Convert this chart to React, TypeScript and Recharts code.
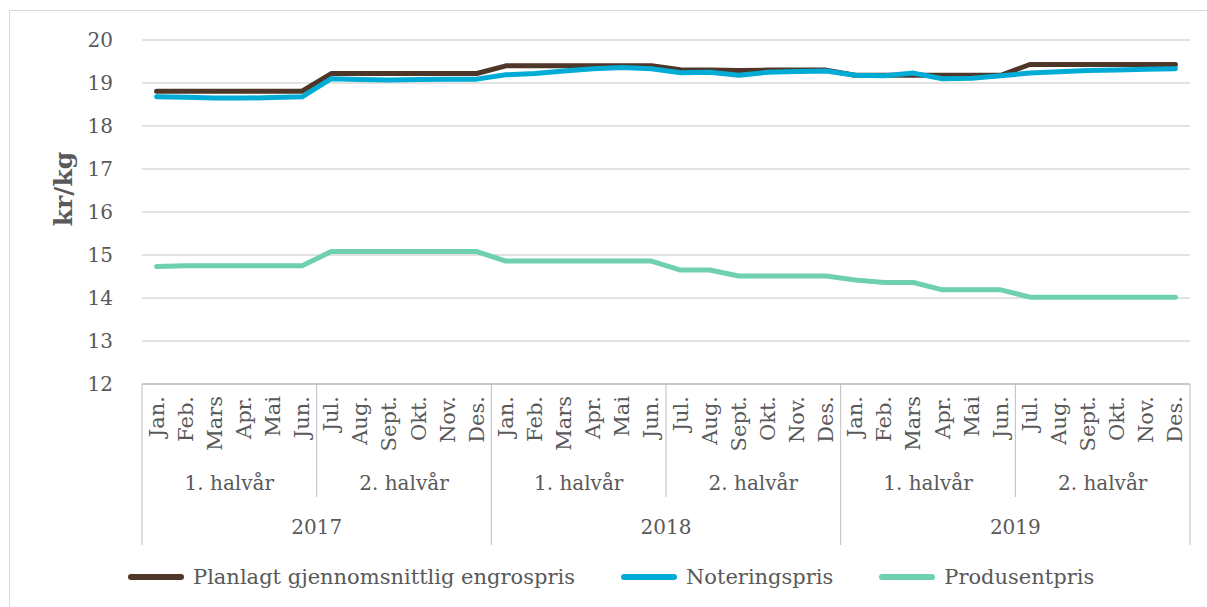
import React from 'react';
import { LineChart, Line, XAxis, YAxis, CartesianGrid, Legend } from 'recharts';

const years = ['2017', '2018', '2019'];
const halves = ['1. halvår', '2. halvår'];
const monthNames = ['Jan.', 'Feb.', 'Mars', 'Apr.', 'Mai', 'Jun.', 'Jul.', 'Aug.', 'Sept.', 'Okt.', 'Nov.', 'Des.'];

const planlagt = [
  18.81, 18.81, 18.81, 18.81, 18.81, 18.81, 19.22, 19.22, 19.22, 19.22, 19.22, 19.22,
  19.4, 19.4, 19.4, 19.4, 19.4, 19.4, 19.31, 19.3, 19.29, 19.3, 19.3, 19.3,
  19.18, 19.18, 19.18, 19.18, 19.18, 19.18, 19.43, 19.43, 19.43, 19.43, 19.43, 19.43,
];
const notering = [
  18.68, 18.67, 18.65, 18.65, 18.66, 18.68, 19.1, 19.08, 19.07, 19.08, 19.09, 19.09,
  19.19, 19.22, 19.28, 19.33, 19.36, 19.33, 19.24, 19.25, 19.18, 19.25, 19.27, 19.28,
  19.18, 19.17, 19.23, 19.1, 19.11, 19.17, 19.23, 19.26, 19.29, 19.3, 19.32, 19.33,
];
const produsent = [
  14.73, 14.75, 14.75, 14.75, 14.75, 14.75, 15.08, 15.08, 15.08, 15.08, 15.08, 15.08,
  14.86, 14.86, 14.86, 14.86, 14.86, 14.86, 14.65, 14.65, 14.51, 14.51, 14.51, 14.51,
  14.42, 14.36, 14.36, 14.19, 14.19, 14.19, 14.02, 14.02, 14.02, 14.02, 14.02, 14.02,
];
const yTicks = [12, 13, 14, 15, 16, 17, 18, 19, 20];

const data = years.flatMap((yr, yi) =>
  monthNames.map((m, mi) => {
    const i = yi * 12 + mi;
    return {
      key: `${yr}-${mi}`,
      month: m,
      half: halves[mi < 6 ? 0 : 1],
      year: yr,
      planlagt: planlagt[i],
      notering: notering[i],
      produsent: produsent[i],
    };
  })
);

const W = 1207;
const H = 607;
const PLOT_LEFT = 142;
const PLOT_RIGHT = 1190;
const BW = (PLOT_RIGHT - PLOT_LEFT) / data.length;
const FONT = "Georgia, 'DejaVu Serif', serif";
const TXT = '#595959';
const SEP = '#bfbfbf';
const LAST = data.length - 1;
const PAD = { left: BW / 2, right: BW / 2 };

const MonthTick = (props: any) => {
  const { x, y, index } = props;
  return (
    <g>
      <text
        transform={`translate(${x},${y + 12}) rotate(-90)`}
        textAnchor="end"
        dominantBaseline="central"
        fontSize={21}
        fontFamily={FONT}
        fill={TXT}
      >
        {data[index].month}
      </text>
      {index % 6 === 0 && <line x1={x - BW / 2} x2={x - BW / 2} y1={y} y2={y + 69} stroke={SEP} />}
      {index === LAST && <line x1={x + BW / 2} x2={x + BW / 2} y1={y} y2={y + 69} stroke={SEP} />}
    </g>
  );
};

const HalfTick = (props: any) => {
  const { x, y, index } = props;
  return (
    <g>
      {index % 6 === 3 && (
        <text x={x - BW / 2} y={y + 30} textAnchor="middle" dominantBaseline="central" fontSize={20} fontFamily={FONT} fill={TXT}>
          {data[index].half}
        </text>
      )}
      {index % 6 === 0 && <line x1={x - BW / 2} x2={x - BW / 2} y1={y} y2={y + 44} stroke={SEP} />}
      {index === LAST && <line x1={x + BW / 2} x2={x + BW / 2} y1={y} y2={y + 44} stroke={SEP} />}
    </g>
  );
};

const YearTick = (props: any) => {
  const { x, y, index } = props;
  return (
    <g>
      {index % 12 === 6 && (
        <text x={x - BW / 2} y={y + 30} textAnchor="middle" dominantBaseline="central" fontSize={20} fontFamily={FONT} fill={TXT}>
          {data[index].year}
        </text>
      )}
      {index % 12 === 0 && <line x1={x - BW / 2} x2={x - BW / 2} y1={y} y2={y + 48} stroke={SEP} />}
      {index === LAST && <line x1={x + BW / 2} x2={x + BW / 2} y1={y} y2={y + 48} stroke={SEP} />}
    </g>
  );
};

const series = [
  { key: 'planlagt', name: 'Planlagt gjennomsnittlig engrospris', color: '#4e3629' },
  { key: 'notering', name: 'Noteringspris', color: '#00acd6' },
  { key: 'produsent', name: 'Produsentpris', color: '#6ecfb1' },
];

const LegendBox = () => (
  <div style={{ height: 62, display: 'flex', alignItems: 'flex-start', paddingTop: 20, paddingLeft: 128, boxSizing: 'border-box', fontFamily: FONT, fontSize: 21, color: TXT }}>
    {series.map((s, i) => (
      <div key={s.key} style={{ display: 'flex', alignItems: 'center', marginLeft: i === 0 ? 0 : 46, height: 24 }}>
        <svg width={56} height={8} style={{ marginRight: 9 }}>
          <line x1={3} x2={53} y1={4} y2={4} stroke={s.color} strokeWidth={6} strokeLinecap="round" />
        </svg>
        <span style={{ whiteSpace: 'nowrap' }}>{s.name}</span>
      </div>
    ))}
  </div>
);

const YLabel = (props: any) => {
  const { viewBox } = props;
  const cx = viewBox.x + 63;
  const cy = 189;
  return (
    <text transform={`translate(${cx},${cy}) rotate(-90)`} textAnchor="middle" dominantBaseline="central" fontSize={25} fontWeight="bold" fontFamily={FONT} fill={TXT}>
      kr/kg
    </text>
  );
};

export default function App() {
  return (
    <div style={{ position: 'relative', width: W, height: H, background: '#fff' }}>
      <style>{'body{margin:0;overflow:hidden;}'}</style>
      <div style={{ position: 'absolute', left: 9, top: 10, width: W - 9, height: H - 10, borderTop: '1px solid #d9d9d9', borderLeft: '1px solid #d9d9d9', boxSizing: 'border-box' }} />
      <div style={{ position: 'absolute', left: 0, top: 0 }}>
        <LineChart width={W} height={H} data={data} margin={{ top: 40, right: W - PLOT_RIGHT, left: 0, bottom: 0 }}>
          <CartesianGrid xAxisId="a" vertical={false} stroke="#d9d9d9" strokeWidth={1.5} />
          <XAxis xAxisId="a" dataKey="key" padding={PAD} interval={0} height={69} tickSize={0} tickMargin={0} tickLine={false} axisLine={{ stroke: SEP, strokeWidth: 1.5 }} tick={<MonthTick />} />
          <XAxis xAxisId="b" dataKey="key" padding={PAD} interval={0} height={44} tickSize={0} tickMargin={0} tickLine={false} axisLine={false} tick={<HalfTick />} />
          <XAxis xAxisId="c" dataKey="key" padding={PAD} interval={0} height={48} tickSize={0} tickMargin={0} tickLine={false} axisLine={false} tick={<YearTick />} />
          <YAxis
            width={PLOT_LEFT}
            domain={[12, 20]}
            ticks={yTicks}
            interval={0}
            tickSize={0}
            tickMargin={29}
            tickLine={false}
            axisLine={false}
            tick={{ fontSize: 20, fontFamily: FONT, fill: TXT }}
            label={<YLabel />}
          />
          <Legend verticalAlign="bottom" content={<LegendBox />} />
          {series.map((s) => (
            <Line
              key={s.key}
              xAxisId="a"
              type="linear"
              dataKey={s.key}
              name={s.name}
              stroke={s.color}
              strokeWidth={5}
              strokeLinecap="round"
              strokeLinejoin="round"
              dot={false}
              activeDot={false}
              isAnimationActive={false}
            />
          ))}
        </LineChart>
      </div>
    </div>
  );
}
